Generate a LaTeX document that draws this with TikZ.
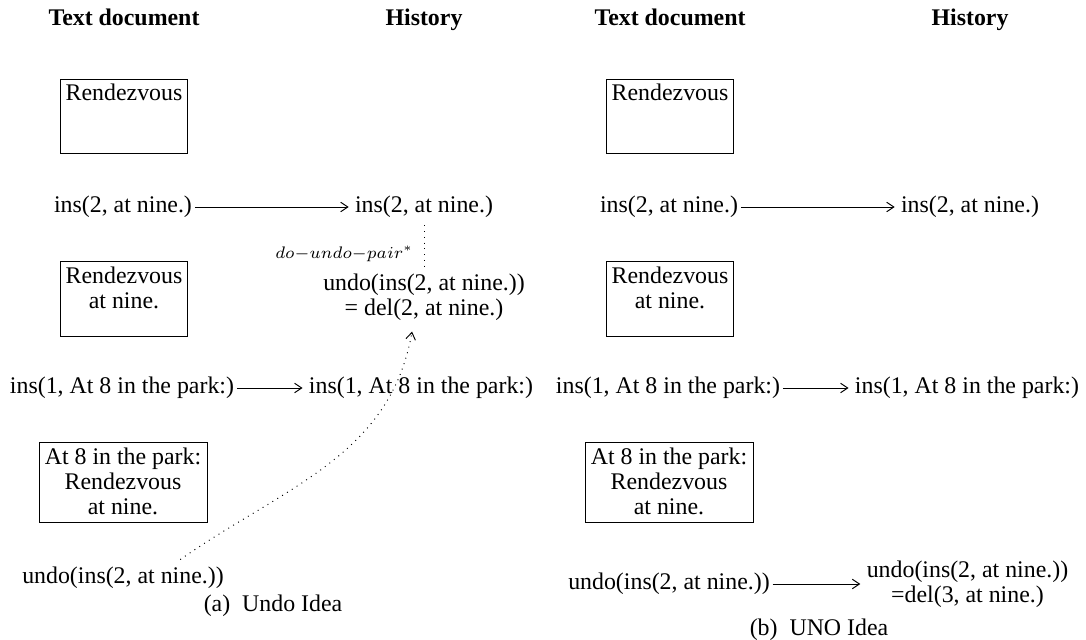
\documentclass[tikz,border=0pt]{standalone}
\usepackage{fontspec}
\setmainfont{Liberation Serif}
\usetikzlibrary{arrows.meta}

\tikzset{
  txt/.style={inner xsep=1pt, inner ysep=3pt, align=center},
  headtxt/.style={anchor=base, font=\bfseries},
  docbox/.style={draw, inner sep=2.2pt},
  hist/.style={-{Straight Barb[length=3pt,width=4pt]}, shorten >=1.5pt},
}

\begin{document}
\begin{tikzpicture}[x=0.419pt, y=-0.419pt, font=\fontsize{10}{10.5}\selectfont]
\useasboundingbox (0,0) rectangle (1086,640);

\node[headtxt] (headLa) at (124,26) {Text document};
\node[headtxt] (headLb) at (424,26) {History};
\node[docbox] (docLa) at (124,116.5) {\begin{minipage}[t][27pt]{49pt}\centering
Rendezvous
\end{minipage}};
\node[txt] (insLa) at (123,207) {ins(2, at nine.)};
\node[txt] (insHa) at (424,207) {ins(2, at nine.)};
\node[docbox] (docLb) at (124,299) {\begin{minipage}[t][27pt]{49pt}\centering
Rendezvous\\at nine.
\end{minipage}};
\node[txt, inner ysep=1.5pt] (undoH) at (424,297) {undo(ins(2, at nine.))\\= del(2, at nine.)};
\node[txt] (insLb) at (122,388) {ins(1, At 8 in the park:)};
\node[txt] (insHb) at (421,388) {ins(1, At 8 in the park:)};
\node[docbox] (docLc) at (123,482.5) {\begin{minipage}[t][29pt]{66pt}\centering
At 8 in the park:\\Rendezvous\\at nine.
\end{minipage}};
\node[txt] (undoL) at (123,578) {undo(ins(2, at nine.))};
\node[txt] (capA) at (273,606) {(a)\enspace Undo Idea};
\draw[hist] (insLa) -- (insHa);
\draw[hist] (insLb) -- (insHb);
\draw[dotted] (insHa) -- node[left, pos=0.65, xshift=-1pt, font=\scriptsize] {$do{-}undo{-}pair^*$} (undoH);
\draw[dotted, -{Straight Barb[length=3pt,width=4pt]}] ([xshift=24pt]undoL.north) to[out=35, in=-100] ([xshift=-5pt,yshift=-3pt]undoH.south);

\node[headtxt] (headRa) at (670,26) {Text document};
\node[headtxt] (headRb) at (970,26) {History};
\node[docbox] (docRa) at (670,116.5) {\begin{minipage}[t][27pt]{49pt}\centering
Rendezvous
\end{minipage}};
\node[txt] (insRa) at (669,207) {ins(2, at nine.)};
\node[txt] (insRHa) at (970,207) {ins(2, at nine.)};
\node[docbox] (docRb) at (670,299) {\begin{minipage}[t][27pt]{49pt}\centering
Rendezvous\\at nine.
\end{minipage}};
\node[txt] (insRb) at (668,388) {ins(1, At 8 in the park:)};
\node[txt] (insRHb) at (967,388) {ins(1, At 8 in the park:)};
\node[docbox] (docRc) at (669,482.5) {\begin{minipage}[t][29pt]{66pt}\centering
At 8 in the park:\\Rendezvous\\at nine.
\end{minipage}};
\node[txt] (undoR) at (669,584) {undo(ins(2, at nine.))};
\node[txt] (undoRH) at (967.5,584) {undo(ins(2, at nine.))\\=del(3, at nine.)};
\node[txt] (capB) at (819,630) {(b)\enspace UNO Idea};
\draw[hist] (insRa) -- (insRHa);
\draw[hist] (insRb) -- (insRHb);
\draw[hist] (undoR) -- (undoRH);
\end{tikzpicture}
\end{document}
